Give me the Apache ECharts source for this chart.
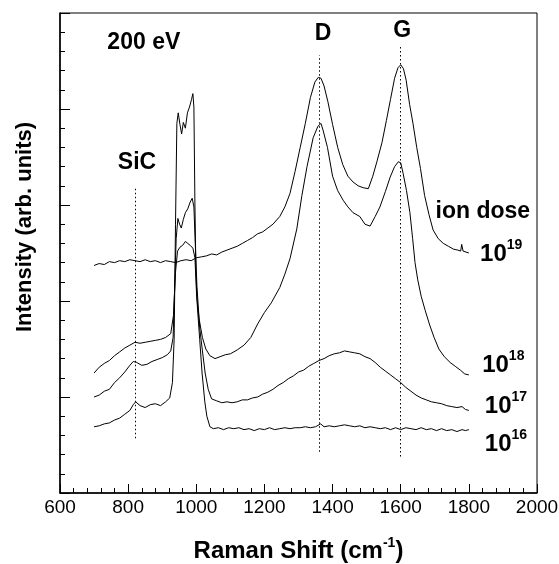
<!DOCTYPE html>
<html>
<head>
<meta charset="utf-8">
<script src="https://cdn.jsdelivr.net/npm/echarts@6/dist/echarts.min.js"></script>
<style>
  html, body { margin: 0; padding: 0; background: #fff; }
  #chart { width: 559px; height: 564px; }
</style>
</head>
<body>
<div id="chart"></div>
<script>
// Raman spectra, 200 eV, four ion doses (offset vertically, arb. units)
const dose16 = [[700,0.69],[715,0.70],[730,0.72],[745,0.73],[760,0.76],[775,0.78],[790,0.82],[805,0.86],[815,0.92],[822,0.95],[835,0.91],[850,0.89],[865,0.92],[880,0.93],[895,0.91],[910,0.95],[922,0.99],[930,1.15],[935,1.6],[939,2.8],[943,3.85],[947,3.96],[952,3.84],[957,3.74],[962,3.86],[968,3.80],[974,3.96],[980,4.02],[986,4.10],[990,4.16],[993,4.02],[996,3.0],[999,2.3],[1003,1.95],[1010,1.6],[1017,1.25],[1025,0.95],[1031,0.80],[1040,0.69],[1050,0.67],[1065,0.68],[1080,0.66],[1095,0.68],[1110,0.67],[1125,0.68],[1140,0.66],[1155,0.67],[1170,0.65],[1185,0.67],[1200,0.66],[1215,0.68],[1230,0.66],[1245,0.67],[1260,0.68],[1275,0.67],[1290,0.68],[1305,0.68],[1320,0.69],[1335,0.68],[1350,0.69],[1365,0.72],[1375,0.69],[1390,0.70],[1405,0.69],[1420,0.70],[1435,0.71],[1450,0.70],[1465,0.69],[1480,0.70],[1495,0.68],[1510,0.69],[1525,0.68],[1540,0.67],[1555,0.68],[1570,0.66],[1585,0.68],[1600,0.66],[1615,0.68],[1630,0.67],[1645,0.66],[1660,0.68],[1675,0.66],[1690,0.67],[1705,0.65],[1720,0.67],[1735,0.65],[1750,0.66],[1765,0.64],[1780,0.66],[1790,0.65],[1800,0.66]];

const dose17 = [[700,1.00],[715,1.02],[730,1.06],[745,1.08],[760,1.15],[775,1.20],[790,1.26],[805,1.33],[815,1.37],[825,1.36],[840,1.33],[855,1.34],[870,1.37],[885,1.39],[900,1.41],[915,1.44],[925,1.48],[932,1.62],[937,2.2],[941,2.65],[946,2.86],[951,2.80],[956,2.76],[962,2.85],[968,2.92],[975,2.96],[982,3.03],[988,3.07],[993,2.98],[997,2.6],[1002,2.15],[1010,1.72],[1018,1.48],[1026,1.25],[1035,1.08],[1045,0.98],[1060,0.96],[1075,0.94],[1090,0.95],[1105,0.94],[1120,0.95],[1135,0.97],[1150,0.97],[1165,0.99],[1180,1.00],[1195,1.03],[1210,1.05],[1225,1.08],[1240,1.12],[1255,1.15],[1270,1.19],[1285,1.22],[1300,1.26],[1315,1.28],[1330,1.32],[1345,1.35],[1360,1.38],[1375,1.40],[1390,1.43],[1405,1.45],[1420,1.46],[1435,1.48],[1450,1.47],[1465,1.46],[1480,1.45],[1495,1.42],[1510,1.40],[1525,1.36],[1540,1.31],[1555,1.27],[1570,1.23],[1585,1.19],[1600,1.15],[1615,1.10],[1630,1.06],[1645,1.02],[1660,0.99],[1675,0.97],[1690,0.95],[1705,0.94],[1720,0.93],[1735,0.91],[1750,0.90],[1765,0.89],[1780,0.90],[1790,0.87],[1800,0.86]];

const dose18 = [[700,1.25],[715,1.31],[730,1.35],[745,1.38],[760,1.43],[775,1.47],[790,1.51],[805,1.54],[820,1.57],[835,1.56],[850,1.57],[865,1.58],[880,1.59],[895,1.60],[910,1.62],[925,1.66],[933,1.85],[939,2.3],[945,2.52],[952,2.56],[960,2.58],[968,2.62],[975,2.60],[982,2.58],[990,2.55],[996,2.45],[1001,2.05],[1008,1.82],[1018,1.62],[1028,1.50],[1040,1.43],[1055,1.40],[1070,1.42],[1085,1.44],[1100,1.45],[1120,1.49],[1140,1.54],[1160,1.62],[1180,1.76],[1200,1.88],[1220,1.98],[1245,2.14],[1260,2.28],[1275,2.44],[1295,2.75],[1310,3.10],[1325,3.40],[1343,3.70],[1357,3.82],[1366,3.85],[1372,3.78],[1385,3.60],[1400,3.30],[1415,3.15],[1431,3.05],[1445,2.98],[1460,2.92],[1480,2.88],[1495,2.80],[1510,2.78],[1525,2.88],[1539,2.98],[1555,3.14],[1569,3.29],[1582,3.40],[1593,3.45],[1600,3.44],[1607,3.33],[1617,3.15],[1627,2.92],[1635,2.65],[1642,2.40],[1650,2.22],[1660,2.05],[1672,1.90],[1685,1.75],[1698,1.62],[1712,1.50],[1728,1.42],[1745,1.36],[1760,1.32],[1775,1.28],[1788,1.24],[1800,1.23]];

const dose19 = [[700,2.37],[715,2.39],[730,2.38],[745,2.41],[760,2.40],[775,2.42],[790,2.41],[805,2.43],[820,2.42],[835,2.41],[850,2.43],[865,2.41],[880,2.42],[895,2.40],[910,2.42],[925,2.41],[940,2.40],[955,2.42],[970,2.43],[985,2.42],[1000,2.45],[1015,2.46],[1030,2.47],[1045,2.49],[1060,2.48],[1075,2.51],[1090,2.53],[1105,2.55],[1120,2.57],[1135,2.60],[1150,2.63],[1165,2.66],[1180,2.70],[1195,2.72],[1210,2.76],[1225,2.80],[1245,2.88],[1260,2.98],[1275,3.12],[1290,3.35],[1305,3.60],[1320,3.85],[1335,4.12],[1348,4.28],[1358,4.33],[1366,4.32],[1375,4.24],[1386,4.08],[1400,3.84],[1415,3.60],[1430,3.42],[1445,3.30],[1460,3.24],[1475,3.20],[1490,3.18],[1505,3.17],[1518,3.30],[1530,3.45],[1545,3.65],[1558,3.88],[1570,4.10],[1582,4.32],[1592,4.43],[1600,4.46],[1608,4.42],[1616,4.30],[1626,4.05],[1636,3.85],[1647,3.60],[1658,3.38],[1670,3.10],[1683,2.90],[1695,2.74],[1710,2.65],[1725,2.60],[1740,2.57],[1755,2.54],[1768,2.53],[1776,2.52],[1779,2.59],[1783,2.52],[1800,2.50]];

// dotted guide lines: SiC, D, G
const guideX = [820, 1360, 1600];
const guideBottom = [0.57, 0.43, 0.38];
const guideTop = [3.19, 4.56, 4.65];

// free text
const noteText = ['200 eV', 'D', 'G', 'SiC', 'ion dose'];
const noteX = [846, 1372, 1604, 826, 1841];
const noteY = [4.69, 4.79, 4.82, 3.44, 2.93];

// dose labels 10^n
const doseExp = ['19', '18', '17', '16'];
const doseX = [1833, 1839, 1847, 1847];
const doseY = [2.49, 1.33, 0.90, 0.51];

const xTicks = { min: 600, max: 2000, interval: 200 };
const yTicks = { min: 0, max: 5, interval: 1 };

const FONT = 'Liberation Sans, Arial, sans-serif';

const chart = echarts.init(document.getElementById('chart'), null, { renderer: 'canvas' });

const spectrum = (data) => ({
  type: 'line',
  data: data,
  showSymbol: false,
  symbol: 'none',
  silent: true,
  lineStyle: { color: '#000', width: 1 }
});

const option = {
  animation: false,
  backgroundColor: '#fff',
  grid: {
    left: 60, right: 22, top: 13, bottom: 71,
    outerBoundsMode: 'none',
    containLabel: false,
    show: true, borderColor: '#000', borderWidth: 1
  },
  xAxis: {
    type: 'value',
    min: xTicks.min, max: xTicks.max, interval: xTicks.interval,
    name: 'Raman Shift (cm{s|-1})',
    nameLocation: 'middle',
    nameGap: 43,
    nameTextStyle: {
      fontFamily: FONT, fontSize: 24, fontWeight: 'bold', color: '#000', lineHeight: 30,
      rich: { s: { fontFamily: FONT, fontSize: 14, fontWeight: 'bold', color: '#000', verticalAlign: 'top', lineHeight: 15 } }
    },
    axisLine: { show: true, onZero: false, lineStyle: { color: '#000', width: 1.5 } },
    axisTick: { show: true, inside: true, length: 9, lineStyle: { color: '#000' } },
    minorTick: { show: true, splitNumber: 5, length: 5, lineStyle: { color: '#000' } },
    axisLabel: { fontFamily: FONT, fontSize: 19, color: '#000', margin: 5, formatter: (v) => String(v) },
    splitLine: { show: false }
  },
  yAxis: {
    type: 'value',
    min: yTicks.min, max: yTicks.max, interval: yTicks.interval,
    name: 'Intensity (arb. units)',
    nameLocation: 'middle',
    nameRotate: 90,
    nameGap: 24,
    nameTextStyle: {
      fontFamily: FONT, fontSize: 22, fontWeight: 'bold', color: '#000',
      padding: [0, 0, 0, 52]
    },
    axisLine: { show: true, onZero: false, lineStyle: { color: '#000', width: 1.5 } },
    axisTick: { show: true, inside: true, length: 10, lineStyle: { color: '#000' } },
    minorTick: { show: true, splitNumber: 5, length: 5, lineStyle: { color: '#000' } },
    axisLabel: { show: false },
    splitLine: { show: false }
  },
  series: [
    spectrum(dose16),
    spectrum(dose17),
    spectrum(dose18),
    spectrum(dose19),
    {
      // dotted guide lines at SiC, D and G
      type: 'line',
      data: [],
      silent: true,
      markLine: {
        silent: true,
        symbol: 'none',
        label: { show: false },
        lineStyle: { color: '#000', type: [1.5, 2.5], width: 1 },
        data: guideX.map((x, i) => [{ coord: [x, guideBottom[i]] }, { coord: [x, guideTop[i]] }])
      }
    },
    {
      // free text
      type: 'scatter',
      symbolSize: 0,
      silent: true,
      itemStyle: { opacity: 1 },
      data: noteText.map((t, i) => ({ value: [noteX[i], noteY[i]], name: t })),
      label: {
        show: true,
        position: [0, 0],
        align: 'center',
        verticalAlign: 'middle',
        formatter: (p) => p.name,
        fontFamily: FONT, fontSize: 23, fontWeight: 'bold', color: '#000',
        textBorderWidth: 0, opacity: 1
      }
    },
    {
      type: 'scatter',
      symbolSize: 0,
      silent: true,
      itemStyle: { opacity: 1 },
      data: doseExp.map((e, i) => ({ value: [doseX[i], doseY[i]], name: e })),
      label: {
        show: true,
        position: [0, 0],
        align: 'left',
        verticalAlign: 'middle',
        opacity: 1,
        formatter: (p) => '{b|10}{s|' + p.name + '}',
        rich: {
          b: { fontFamily: FONT, fontSize: 24, fontWeight: 'bold', color: '#000', lineHeight: 32 },
          s: { fontFamily: FONT, fontSize: 14, fontWeight: 'bold', color: '#000', verticalAlign: 'top', lineHeight: 15 }
        }
      }
    }
  ]
};

chart.setOption(option);
</script>
</body>
</html>
